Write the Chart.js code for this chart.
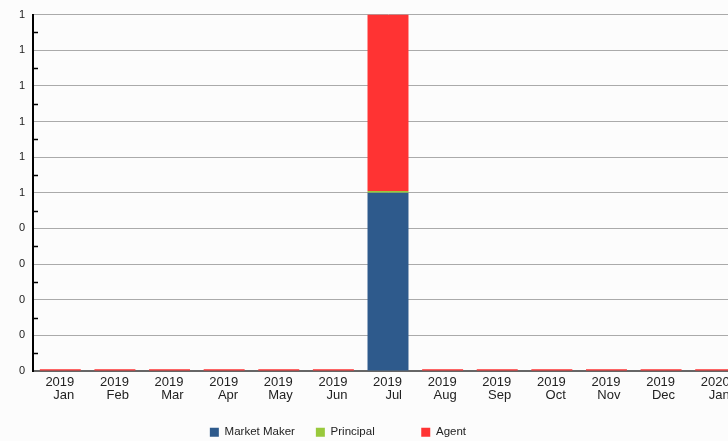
<!DOCTYPE html>
<html>
<head>
<meta charset="utf-8">
<script src="https://cdn.jsdelivr.net/npm/chart.js@4/dist/chart.umd.min.js"></script>
<style>
  html, body { margin: 0; padding: 0; background: #fcfcfc; overflow: hidden; }
  #wrap { width: 743px; height: 441px; position: relative; }
</style>
</head>
<body>
<div id="wrap"><canvas id="grafico"></canvas></div>
<script>
// categorias (mes) y series
const meses = [
  ["2019", "Jan"], ["2019", "Feb"], ["2019", "Mar"], ["2019", "Apr"],
  ["2019", "May"], ["2019", "Jun"], ["2019", "Jul"], ["2019", "Aug"],
  ["2019", "Sep"], ["2019", "Oct"], ["2019", "Nov"], ["2019", "Dec"],
  ["2020", "Jan"]
];
const marketMaker = [0, 0, 0, 0, 0, 0, 0.5, 0, 0, 0, 0, 0, 0];
const principal = [0, 0, 0, 0, 0, 0, 0.005, 0, 0, 0, 0, 0, 0];
const agent = [0.005, 0.005, 0.005, 0.005, 0.005, 0.005, 0.495, 0.005, 0.005, 0.005, 0.005, 0.005, 0.005];
const yMin = 0;
const yMax = 1;
const yPaso = 0.1;

Chart.defaults.font.family = "'Liberation Sans', Arial, sans-serif";
Chart.defaults.color = "#222";

// marcas menores del eje y (entre lineas de grilla)
const marcasMenores = {
  id: "marcasMenores",
  afterDraw(chart) {
    const y = chart.scales.y;
    const ctx = chart.ctx;
    ctx.save();
    ctx.strokeStyle = "#000";
    ctx.lineWidth = 1.5;
    for (let v = yMin + yPaso / 2; v < yMax; v += yPaso) {
      const py = Math.round(y.getPixelForValue(v)) + 0.5;
      ctx.beginPath();
      ctx.moveTo(chart.chartArea.left, py);
      ctx.lineTo(chart.chartArea.left + 5, py);
      ctx.stroke();
    }
    ctx.restore();
  },
};

// relleno para que cada item de la leyenda ocupe el mismo ancho
const rellenoLeyenda = ["     ", "             ", "                     "];

new Chart(document.getElementById("grafico"), {
  type: "bar",
  data: {
    labels: meses,
    datasets: [
      { label: "Market Maker", data: marketMaker, backgroundColor: "#2e5a8c" },
      { label: "Principal", data: principal, backgroundColor: "#99c93c" },
      { label: "Agent", data: agent, backgroundColor: "#ff3333" },
    ],
  },
  options: {
    responsive: true,
    maintainAspectRatio: false,
    animation: false,
    layout: { padding: { top: 14, right: 0, bottom: -7, left: 0 } },
    datasets: { bar: { categoryPercentage: 0.75, barPercentage: 1 } },
    scales: {
      x: {
        stacked: true,
        offset: true,
        grid: { display: false },
        border: { color: "#666", width: 2 },
        ticks: {
          font: { size: 13, lineHeight: 1 },
          align: "end",
          labelOffset: 14,
          padding: -3,
          maxRotation: 0,
          autoSkip: false,
        },
        afterFit: (s) => { s.height = 50.5; },
      },
      y: {
        stacked: true,
        min: yMin,
        max: yMax,
        grid: { color: "#aaa", drawTicks: false },
        border: { color: "#000", width: 2 },
        ticks: {
          stepSize: yPaso,
          font: { size: 11 },
          padding: 8,
          callback: (v) => Math.round(v),
        },
        afterFit: (s) => { s.width = 33; },
      },
    },
    plugins: {
      tooltip: { enabled: false },
      legend: {
        position: "bottom",
        labels: {
          boxWidth: 9,
          boxHeight: 9,
          padding: 5,
          font: { size: 11.5 },
          generateLabels: (chart) =>
            Chart.defaults.plugins.legend.labels
              .generateLabels(chart)
              .map((it, i) => ({ ...it, text: it.text + rellenoLeyenda[i] })),
        },
      },
    },
  },
  plugins: [marcasMenores],
});
</script>
</body>
</html>
